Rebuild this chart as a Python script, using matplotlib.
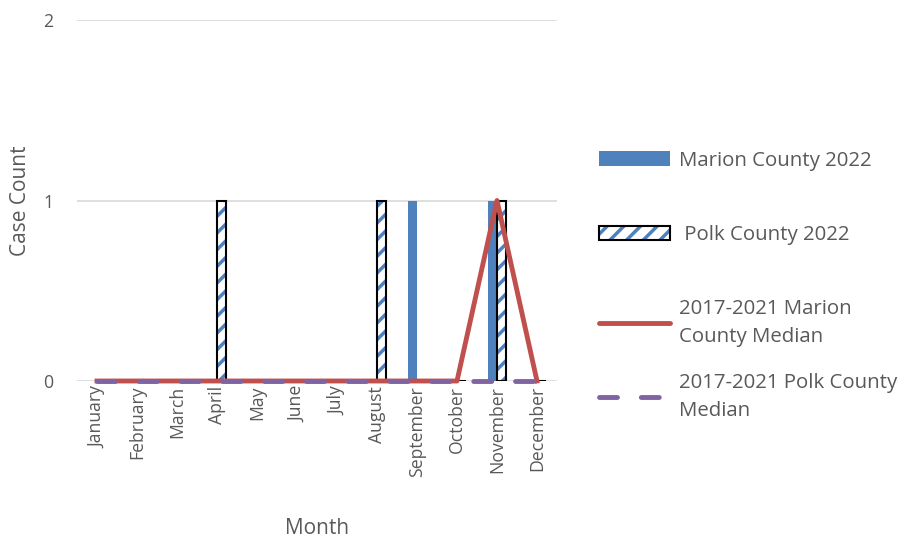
import numpy as np
import matplotlib
matplotlib.use("Agg")
import matplotlib.pyplot as plt
from matplotlib.patches import Patch
from matplotlib.lines import Line2D
from matplotlib.legend_handler import HandlerTuple

# data
months = ["January", "February", "March", "April", "May", "June", "July",
          "August", "September", "October", "November", "December"]
marion_2022 = [0, 0, 0, 0, 0, 0, 0, 0, 1, 0, 1, 0]
polk_2022 = [0, 0, 0, 1, 0, 0, 0, 1, 0, 0, 1, 0]
marion_median = [0, 0, 0, 0, 0, 0, 0, 0, 0, 0, 1, 0]
polk_median = [0, 0, 0, 0, 0, 0, 0, 0, 0, 0, 0, 0]

blue = "#4f81bd"
red = "#c0504d"
purple = "#8064a2"
grey = "#595959"

plt.rcParams['font.family'] = ['Open Sans', 'DejaVu Sans']
plt.rcParams['hatch.linewidth'] = 2.5

fig = plt.figure(figsize=(9.03, 5.4), dpi=100)
ax = fig.add_axes([77/903, 1 - 381/540, 480/903, 361/540])

x = np.arange(len(months))
w = 0.22

ax.bar(x - w/2 - 0.01, marion_2022, width=w, color=blue, zorder=2)
# hatched bar: stripes first, black outline on top
ax.bar(x + w/2 + 0.01, polk_2022, width=w, color="white", edgecolor=blue,
       hatch="//", linewidth=0, zorder=2)
ax.bar(x + w/2 + 0.01, polk_2022, width=w, color="none", edgecolor="black",
       linewidth=1.5, zorder=3)

ax.plot(x, marion_median, color=red, linewidth=3.5, zorder=4, clip_on=False)
ax.plot(x, polk_median, color=purple, linewidth=3.5, dashes=(3.7, 4.9),
        dash_capstyle="round", zorder=5, clip_on=False)

ax.set_xlim(-0.5, len(months) - 0.5)
ax.set_ylim(0, 2)
ax.set_yticks([0, 1, 2])
ax.yaxis.grid(True, color="#d9d9d9", linewidth=1.2)
ax.set_axisbelow(True)
for s in ax.spines.values():
    s.set_visible(False)
ax.tick_params(length=0, labelcolor=grey, labelsize=12.7)
ax.tick_params(axis="y", pad=17)
ax.set_xticks(x)
ax.set_xticklabels(months, rotation=90)

ax.set_ylabel("Case Count", fontsize=15, color=grey, labelpad=9)
ax.set_xlabel("Month", fontsize=15, color=grey, labelpad=30)

hatch_face = Patch(facecolor="white", edgecolor=blue, hatch="//", linewidth=0)
hatch_edge = Patch(facecolor="none", edgecolor="black", linewidth=1.5)
handles = [
    Patch(facecolor=blue, edgecolor="none"),
    (hatch_face, hatch_edge),
    Line2D([0], [0], color=red, linewidth=3.5, solid_capstyle="round"),
]
labels = ["Marion County 2022", " Polk County 2022", "2017-2021 Marion\nCounty Median"]
leg_kw = dict(frameon=False, handlelength=3.5, handleheight=0.75, handletextpad=0.4,
              fontsize=14.7, labelcolor=grey, borderaxespad=0, borderpad=0,
              handler_map={tuple: HandlerTuple(ndivide=1)})
leg = fig.legend(handles, labels, loc="upper left", bbox_to_anchor=(599/903, 1 - 151/540),
                 labelspacing=2.65, **leg_kw)
for t in leg.get_texts():
    t.set_linespacing(1.5)

# last entry sits closer to the one above it
leg2 = fig.legend([Line2D([0], [0], color=purple, linewidth=3.5, dashes=(3.7, 4.9),
                          dash_capstyle="round")],
                  ["2017-2021 Polk County\nMedian"], loc="upper left",
                  bbox_to_anchor=(599/903, 1 - 373/540), **leg_kw)
for t in leg2.get_texts():
    t.set_linespacing(1.5)

fig.savefig("out.png", dpi=100)
